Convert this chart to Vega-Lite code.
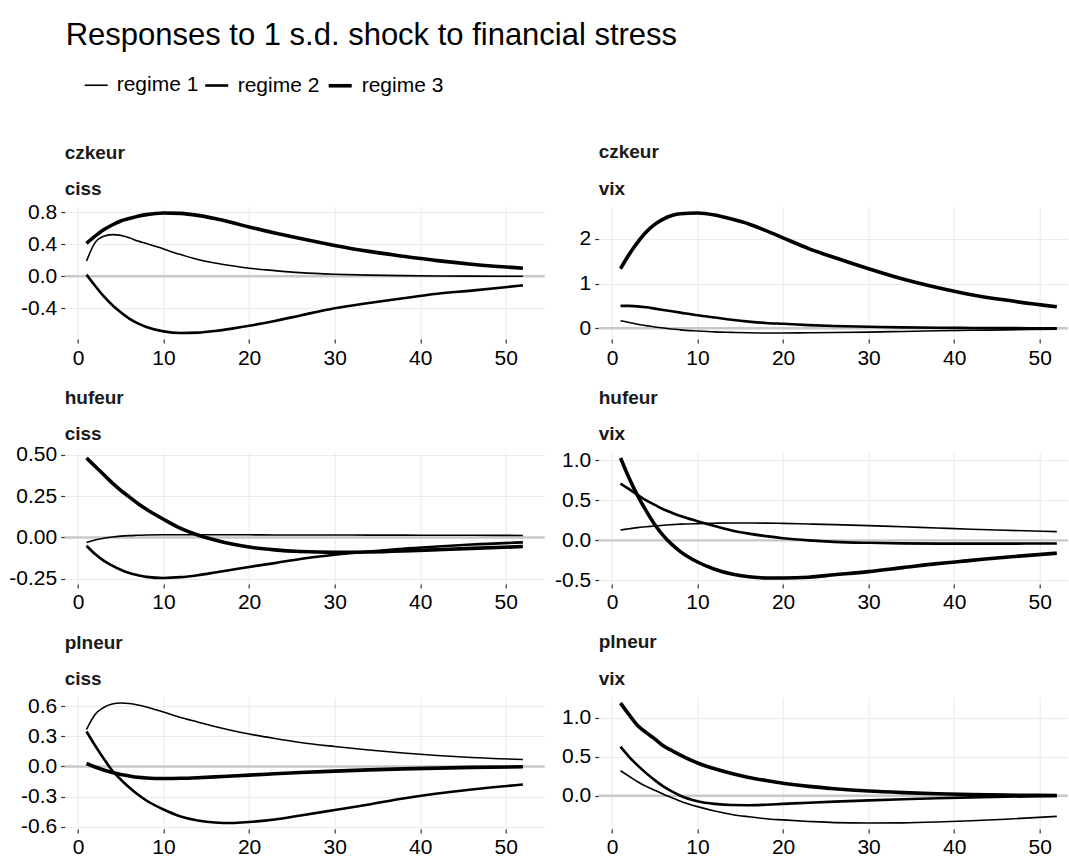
{
  "$schema": "https://vega.github.io/schema/vega-lite/v6.json",
  "background": "white",
  "padding": {"left": 8.7, "top": 20, "right": 0, "bottom": 0},
  "title": {"text": "Responses to 1 s.d. shock to financial stress", "anchor": "start", "frame": "group", "fontSize": 31, "fontWeight": "normal", "color": "#000000", "offset": 20, "lineHeight": 34, "dx": 1},
  "datasets": {
    "czkeur_ciss": [
      {"reg":"regime 1","h":1,"v":0.19},{"reg":"regime 1","h":2,"v":0.42},{"reg":"regime 1","h":3,"v":0.50},{"reg":"regime 1","h":4,"v":0.52},{"reg":"regime 1","h":5,"v":0.51},{"reg":"regime 1","h":6,"v":0.48},{"reg":"regime 1","h":7,"v":0.44},{"reg":"regime 1","h":8,"v":0.41},{"reg":"regime 1","h":10,"v":0.34},{"reg":"regime 1","h":12,"v":0.27},{"reg":"regime 1","h":14,"v":0.21},{"reg":"regime 1","h":16,"v":0.165},{"reg":"regime 1","h":18,"v":0.13},{"reg":"regime 1","h":20,"v":0.10},{"reg":"regime 1","h":23,"v":0.07},{"reg":"regime 1","h":26,"v":0.045},{"reg":"regime 1","h":30,"v":0.025},{"reg":"regime 1","h":34,"v":0.013},{"reg":"regime 1","h":38,"v":0.007},{"reg":"regime 1","h":42,"v":0.003},{"reg":"regime 1","h":46,"v":0.001},{"reg":"regime 1","h":52,"v":0.0},
      {"reg":"regime 2","h":1,"v":0.02},{"reg":"regime 2","h":2,"v":-0.12},{"reg":"regime 2","h":3,"v":-0.25},{"reg":"regime 2","h":4,"v":-0.36},{"reg":"regime 2","h":5,"v":-0.45},{"reg":"regime 2","h":6,"v":-0.53},{"reg":"regime 2","h":7,"v":-0.59},{"reg":"regime 2","h":8,"v":-0.635},{"reg":"regime 2","h":10,"v":-0.69},{"reg":"regime 2","h":12,"v":-0.71},{"reg":"regime 2","h":14,"v":-0.705},{"reg":"regime 2","h":16,"v":-0.685},{"reg":"regime 2","h":18,"v":-0.655},{"reg":"regime 2","h":20,"v":-0.62},{"reg":"regime 2","h":23,"v":-0.56},{"reg":"regime 2","h":26,"v":-0.49},{"reg":"regime 2","h":30,"v":-0.40},{"reg":"regime 2","h":34,"v":-0.335},{"reg":"regime 2","h":38,"v":-0.275},{"reg":"regime 2","h":42,"v":-0.22},{"reg":"regime 2","h":46,"v":-0.18},{"reg":"regime 2","h":52,"v":-0.115},
      {"reg":"regime 3","h":1,"v":0.41},{"reg":"regime 3","h":2,"v":0.50},{"reg":"regime 3","h":3,"v":0.58},{"reg":"regime 3","h":4,"v":0.64},{"reg":"regime 3","h":5,"v":0.69},{"reg":"regime 3","h":6,"v":0.72},{"reg":"regime 3","h":7,"v":0.75},{"reg":"regime 3","h":8,"v":0.77},{"reg":"regime 3","h":10,"v":0.79},{"reg":"regime 3","h":12,"v":0.785},{"reg":"regime 3","h":14,"v":0.76},{"reg":"regime 3","h":16,"v":0.72},{"reg":"regime 3","h":18,"v":0.67},{"reg":"regime 3","h":20,"v":0.615},{"reg":"regime 3","h":23,"v":0.54},{"reg":"regime 3","h":26,"v":0.47},{"reg":"regime 3","h":30,"v":0.385},{"reg":"regime 3","h":34,"v":0.31},{"reg":"regime 3","h":38,"v":0.25},{"reg":"regime 3","h":42,"v":0.195},{"reg":"regime 3","h":46,"v":0.15},{"reg":"regime 3","h":52,"v":0.10}
    ],
    "czkeur_vix": [
      {"reg":"regime 1","h":1,"v":0.17},{"reg":"regime 1","h":2,"v":0.13},{"reg":"regime 1","h":3,"v":0.09},{"reg":"regime 1","h":4,"v":0.06},{"reg":"regime 1","h":5,"v":0.03},{"reg":"regime 1","h":6,"v":0.005},{"reg":"regime 1","h":7,"v":-0.015},{"reg":"regime 1","h":8,"v":-0.035},{"reg":"regime 1","h":10,"v":-0.06},{"reg":"regime 1","h":12,"v":-0.08},{"reg":"regime 1","h":14,"v":-0.09},{"reg":"regime 1","h":16,"v":-0.1},{"reg":"regime 1","h":18,"v":-0.105},{"reg":"regime 1","h":20,"v":-0.105},{"reg":"regime 1","h":23,"v":-0.10},{"reg":"regime 1","h":26,"v":-0.095},{"reg":"regime 1","h":30,"v":-0.085},{"reg":"regime 1","h":34,"v":-0.07},{"reg":"regime 1","h":38,"v":-0.055},{"reg":"regime 1","h":42,"v":-0.045},{"reg":"regime 1","h":46,"v":-0.035},{"reg":"regime 1","h":52,"v":-0.02},
      {"reg":"regime 2","h":1,"v":0.50},{"reg":"regime 2","h":2,"v":0.50},{"reg":"regime 2","h":3,"v":0.49},{"reg":"regime 2","h":4,"v":0.47},{"reg":"regime 2","h":5,"v":0.44},{"reg":"regime 2","h":6,"v":0.41},{"reg":"regime 2","h":7,"v":0.38},{"reg":"regime 2","h":8,"v":0.35},{"reg":"regime 2","h":10,"v":0.29},{"reg":"regime 2","h":12,"v":0.24},{"reg":"regime 2","h":14,"v":0.19},{"reg":"regime 2","h":16,"v":0.15},{"reg":"regime 2","h":18,"v":0.12},{"reg":"regime 2","h":20,"v":0.10},{"reg":"regime 2","h":23,"v":0.07},{"reg":"regime 2","h":26,"v":0.05},{"reg":"regime 2","h":30,"v":0.035},{"reg":"regime 2","h":34,"v":0.02},{"reg":"regime 2","h":38,"v":0.012},{"reg":"regime 2","h":42,"v":0.008},{"reg":"regime 2","h":46,"v":0.005},{"reg":"regime 2","h":52,"v":0.0},
      {"reg":"regime 3","h":1,"v":1.33},{"reg":"regime 3","h":2,"v":1.65},{"reg":"regime 3","h":3,"v":1.92},{"reg":"regime 3","h":4,"v":2.15},{"reg":"regime 3","h":5,"v":2.32},{"reg":"regime 3","h":6,"v":2.44},{"reg":"regime 3","h":7,"v":2.52},{"reg":"regime 3","h":8,"v":2.56},{"reg":"regime 3","h":10,"v":2.575},{"reg":"regime 3","h":12,"v":2.53},{"reg":"regime 3","h":14,"v":2.44},{"reg":"regime 3","h":16,"v":2.33},{"reg":"regime 3","h":18,"v":2.18},{"reg":"regime 3","h":20,"v":2.02},{"reg":"regime 3","h":23,"v":1.78},{"reg":"regime 3","h":26,"v":1.58},{"reg":"regime 3","h":30,"v":1.33},{"reg":"regime 3","h":34,"v":1.10},{"reg":"regime 3","h":38,"v":0.91},{"reg":"regime 3","h":42,"v":0.75},{"reg":"regime 3","h":46,"v":0.63},{"reg":"regime 3","h":52,"v":0.48}
    ],
    "hufeur_ciss": [
      {"reg":"regime 1","h":1,"v":-0.03},{"reg":"regime 1","h":2,"v":-0.015},{"reg":"regime 1","h":3,"v":-0.005},{"reg":"regime 1","h":4,"v":0.003},{"reg":"regime 1","h":5,"v":0.008},{"reg":"regime 1","h":6,"v":0.011},{"reg":"regime 1","h":7,"v":0.013},{"reg":"regime 1","h":8,"v":0.015},{"reg":"regime 1","h":10,"v":0.016},{"reg":"regime 1","h":12,"v":0.016},{"reg":"regime 1","h":14,"v":0.016},{"reg":"regime 1","h":16,"v":0.016},{"reg":"regime 1","h":18,"v":0.016},{"reg":"regime 1","h":20,"v":0.016},{"reg":"regime 1","h":23,"v":0.015},{"reg":"regime 1","h":26,"v":0.015},{"reg":"regime 1","h":30,"v":0.015},{"reg":"regime 1","h":34,"v":0.014},{"reg":"regime 1","h":38,"v":0.014},{"reg":"regime 1","h":42,"v":0.013},{"reg":"regime 1","h":46,"v":0.013},{"reg":"regime 1","h":52,"v":0.012},
      {"reg":"regime 2","h":1,"v":-0.05},{"reg":"regime 2","h":2,"v":-0.10},{"reg":"regime 2","h":3,"v":-0.14},{"reg":"regime 2","h":4,"v":-0.17},{"reg":"regime 2","h":5,"v":-0.195},{"reg":"regime 2","h":6,"v":-0.215},{"reg":"regime 2","h":7,"v":-0.228},{"reg":"regime 2","h":8,"v":-0.238},{"reg":"regime 2","h":10,"v":-0.245},{"reg":"regime 2","h":12,"v":-0.24},{"reg":"regime 2","h":14,"v":-0.228},{"reg":"regime 2","h":16,"v":-0.212},{"reg":"regime 2","h":18,"v":-0.195},{"reg":"regime 2","h":20,"v":-0.178},{"reg":"regime 2","h":23,"v":-0.155},{"reg":"regime 2","h":26,"v":-0.13},{"reg":"regime 2","h":30,"v":-0.105},{"reg":"regime 2","h":34,"v":-0.085},{"reg":"regime 2","h":38,"v":-0.068},{"reg":"regime 2","h":42,"v":-0.055},{"reg":"regime 2","h":46,"v":-0.043},{"reg":"regime 2","h":52,"v":-0.03},
      {"reg":"regime 3","h":1,"v":0.48},{"reg":"regime 3","h":2,"v":0.43},{"reg":"regime 3","h":3,"v":0.38},{"reg":"regime 3","h":4,"v":0.33},{"reg":"regime 3","h":5,"v":0.285},{"reg":"regime 3","h":6,"v":0.245},{"reg":"regime 3","h":7,"v":0.205},{"reg":"regime 3","h":8,"v":0.17},{"reg":"regime 3","h":10,"v":0.11},{"reg":"regime 3","h":12,"v":0.055},{"reg":"regime 3","h":14,"v":0.015},{"reg":"regime 3","h":16,"v":-0.015},{"reg":"regime 3","h":18,"v":-0.04},{"reg":"regime 3","h":20,"v":-0.058},{"reg":"regime 3","h":23,"v":-0.075},{"reg":"regime 3","h":26,"v":-0.085},{"reg":"regime 3","h":30,"v":-0.09},{"reg":"regime 3","h":34,"v":-0.088},{"reg":"regime 3","h":38,"v":-0.082},{"reg":"regime 3","h":42,"v":-0.074},{"reg":"regime 3","h":46,"v":-0.066},{"reg":"regime 3","h":52,"v":-0.055}
    ],
    "hufeur_vix": [
      {"reg":"regime 1","h":1,"v":0.13},{"reg":"regime 1","h":2,"v":0.145},{"reg":"regime 1","h":3,"v":0.16},{"reg":"regime 1","h":4,"v":0.17},{"reg":"regime 1","h":5,"v":0.18},{"reg":"regime 1","h":6,"v":0.19},{"reg":"regime 1","h":7,"v":0.197},{"reg":"regime 1","h":8,"v":0.203},{"reg":"regime 1","h":10,"v":0.21},{"reg":"regime 1","h":12,"v":0.215},{"reg":"regime 1","h":14,"v":0.218},{"reg":"regime 1","h":16,"v":0.218},{"reg":"regime 1","h":18,"v":0.216},{"reg":"regime 1","h":20,"v":0.213},{"reg":"regime 1","h":23,"v":0.205},{"reg":"regime 1","h":26,"v":0.197},{"reg":"regime 1","h":30,"v":0.185},{"reg":"regime 1","h":34,"v":0.17},{"reg":"regime 1","h":38,"v":0.155},{"reg":"regime 1","h":42,"v":0.14},{"reg":"regime 1","h":46,"v":0.127},{"reg":"regime 1","h":52,"v":0.11},
      {"reg":"regime 2","h":1,"v":0.71},{"reg":"regime 2","h":2,"v":0.64},{"reg":"regime 2","h":3,"v":0.57},{"reg":"regime 2","h":4,"v":0.50},{"reg":"regime 2","h":5,"v":0.445},{"reg":"regime 2","h":6,"v":0.39},{"reg":"regime 2","h":7,"v":0.345},{"reg":"regime 2","h":8,"v":0.305},{"reg":"regime 2","h":10,"v":0.24},{"reg":"regime 2","h":12,"v":0.18},{"reg":"regime 2","h":14,"v":0.125},{"reg":"regime 2","h":16,"v":0.085},{"reg":"regime 2","h":18,"v":0.053},{"reg":"regime 2","h":20,"v":0.027},{"reg":"regime 2","h":23,"v":0.0},{"reg":"regime 2","h":26,"v":-0.018},{"reg":"regime 2","h":30,"v":-0.03},{"reg":"regime 2","h":34,"v":-0.037},{"reg":"regime 2","h":38,"v":-0.04},{"reg":"regime 2","h":42,"v":-0.04},{"reg":"regime 2","h":46,"v":-0.04},{"reg":"regime 2","h":52,"v":-0.038},
      {"reg":"regime 3","h":1,"v":1.03},{"reg":"regime 3","h":2,"v":0.78},{"reg":"regime 3","h":3,"v":0.56},{"reg":"regime 3","h":4,"v":0.37},{"reg":"regime 3","h":5,"v":0.2},{"reg":"regime 3","h":6,"v":0.06},{"reg":"regime 3","h":7,"v":-0.05},{"reg":"regime 3","h":8,"v":-0.14},{"reg":"regime 3","h":10,"v":-0.27},{"reg":"regime 3","h":12,"v":-0.36},{"reg":"regime 3","h":14,"v":-0.42},{"reg":"regime 3","h":16,"v":-0.455},{"reg":"regime 3","h":18,"v":-0.47},{"reg":"regime 3","h":20,"v":-0.47},{"reg":"regime 3","h":23,"v":-0.46},{"reg":"regime 3","h":26,"v":-0.43},{"reg":"regime 3","h":30,"v":-0.39},{"reg":"regime 3","h":34,"v":-0.34},{"reg":"regime 3","h":38,"v":-0.29},{"reg":"regime 3","h":42,"v":-0.25},{"reg":"regime 3","h":46,"v":-0.21},{"reg":"regime 3","h":52,"v":-0.16}
    ],
    "plneur_ciss": [
      {"reg":"regime 1","h":1,"v":0.37},{"reg":"regime 1","h":2,"v":0.52},{"reg":"regime 1","h":3,"v":0.59},{"reg":"regime 1","h":4,"v":0.625},{"reg":"regime 1","h":5,"v":0.635},{"reg":"regime 1","h":6,"v":0.63},{"reg":"regime 1","h":7,"v":0.615},{"reg":"regime 1","h":8,"v":0.595},{"reg":"regime 1","h":10,"v":0.545},{"reg":"regime 1","h":12,"v":0.49},{"reg":"regime 1","h":14,"v":0.445},{"reg":"regime 1","h":16,"v":0.40},{"reg":"regime 1","h":18,"v":0.36},{"reg":"regime 1","h":20,"v":0.325},{"reg":"regime 1","h":23,"v":0.28},{"reg":"regime 1","h":26,"v":0.24},{"reg":"regime 1","h":30,"v":0.20},{"reg":"regime 1","h":34,"v":0.165},{"reg":"regime 1","h":38,"v":0.135},{"reg":"regime 1","h":42,"v":0.11},{"reg":"regime 1","h":46,"v":0.09},{"reg":"regime 1","h":52,"v":0.07},
      {"reg":"regime 2","h":1,"v":0.35},{"reg":"regime 2","h":2,"v":0.21},{"reg":"regime 2","h":3,"v":0.08},{"reg":"regime 2","h":4,"v":-0.04},{"reg":"regime 2","h":5,"v":-0.13},{"reg":"regime 2","h":6,"v":-0.21},{"reg":"regime 2","h":7,"v":-0.28},{"reg":"regime 2","h":8,"v":-0.34},{"reg":"regime 2","h":10,"v":-0.43},{"reg":"regime 2","h":12,"v":-0.5},{"reg":"regime 2","h":14,"v":-0.54},{"reg":"regime 2","h":16,"v":-0.56},{"reg":"regime 2","h":18,"v":-0.565},{"reg":"regime 2","h":20,"v":-0.555},{"reg":"regime 2","h":23,"v":-0.53},{"reg":"regime 2","h":26,"v":-0.49},{"reg":"regime 2","h":30,"v":-0.435},{"reg":"regime 2","h":34,"v":-0.38},{"reg":"regime 2","h":38,"v":-0.32},{"reg":"regime 2","h":42,"v":-0.27},{"reg":"regime 2","h":46,"v":-0.23},{"reg":"regime 2","h":52,"v":-0.18},
      {"reg":"regime 3","h":1,"v":0.03},{"reg":"regime 3","h":2,"v":-0.005},{"reg":"regime 3","h":3,"v":-0.035},{"reg":"regime 3","h":4,"v":-0.06},{"reg":"regime 3","h":5,"v":-0.08},{"reg":"regime 3","h":6,"v":-0.095},{"reg":"regime 3","h":7,"v":-0.108},{"reg":"regime 3","h":8,"v":-0.115},{"reg":"regime 3","h":10,"v":-0.12},{"reg":"regime 3","h":12,"v":-0.118},{"reg":"regime 3","h":14,"v":-0.112},{"reg":"regime 3","h":16,"v":-0.104},{"reg":"regime 3","h":18,"v":-0.095},{"reg":"regime 3","h":20,"v":-0.086},{"reg":"regime 3","h":23,"v":-0.073},{"reg":"regime 3","h":26,"v":-0.06},{"reg":"regime 3","h":30,"v":-0.046},{"reg":"regime 3","h":34,"v":-0.034},{"reg":"regime 3","h":38,"v":-0.024},{"reg":"regime 3","h":42,"v":-0.016},{"reg":"regime 3","h":46,"v":-0.009},{"reg":"regime 3","h":52,"v":-0.003}
    ],
    "plneur_vix": [
      {"reg":"regime 1","h":1,"v":0.32},{"reg":"regime 1","h":2,"v":0.25},{"reg":"regime 1","h":3,"v":0.18},{"reg":"regime 1","h":4,"v":0.12},{"reg":"regime 1","h":5,"v":0.07},{"reg":"regime 1","h":6,"v":0.02},{"reg":"regime 1","h":7,"v":-0.025},{"reg":"regime 1","h":8,"v":-0.07},{"reg":"regime 1","h":10,"v":-0.14},{"reg":"regime 1","h":12,"v":-0.195},{"reg":"regime 1","h":14,"v":-0.24},{"reg":"regime 1","h":16,"v":-0.27},{"reg":"regime 1","h":18,"v":-0.295},{"reg":"regime 1","h":20,"v":-0.31},{"reg":"regime 1","h":23,"v":-0.33},{"reg":"regime 1","h":26,"v":-0.345},{"reg":"regime 1","h":30,"v":-0.35},{"reg":"regime 1","h":34,"v":-0.348},{"reg":"regime 1","h":38,"v":-0.338},{"reg":"regime 1","h":42,"v":-0.322},{"reg":"regime 1","h":46,"v":-0.302},{"reg":"regime 1","h":52,"v":-0.265},
      {"reg":"regime 2","h":1,"v":0.63},{"reg":"regime 2","h":2,"v":0.5},{"reg":"regime 2","h":3,"v":0.39},{"reg":"regime 2","h":4,"v":0.29},{"reg":"regime 2","h":5,"v":0.2},{"reg":"regime 2","h":6,"v":0.12},{"reg":"regime 2","h":7,"v":0.055},{"reg":"regime 2","h":8,"v":0.0},{"reg":"regime 2","h":10,"v":-0.07},{"reg":"regime 2","h":12,"v":-0.105},{"reg":"regime 2","h":14,"v":-0.12},{"reg":"regime 2","h":16,"v":-0.122},{"reg":"regime 2","h":18,"v":-0.115},{"reg":"regime 2","h":20,"v":-0.105},{"reg":"regime 2","h":23,"v":-0.09},{"reg":"regime 2","h":26,"v":-0.076},{"reg":"regime 2","h":30,"v":-0.06},{"reg":"regime 2","h":34,"v":-0.045},{"reg":"regime 2","h":38,"v":-0.032},{"reg":"regime 2","h":42,"v":-0.021},{"reg":"regime 2","h":46,"v":-0.013},{"reg":"regime 2","h":52,"v":-0.004},
      {"reg":"regime 3","h":1,"v":1.19},{"reg":"regime 3","h":2,"v":1.04},{"reg":"regime 3","h":3,"v":0.9},{"reg":"regime 3","h":4,"v":0.81},{"reg":"regime 3","h":5,"v":0.73},{"reg":"regime 3","h":6,"v":0.64},{"reg":"regime 3","h":7,"v":0.58},{"reg":"regime 3","h":8,"v":0.52},{"reg":"regime 3","h":10,"v":0.42},{"reg":"regime 3","h":12,"v":0.345},{"reg":"regime 3","h":14,"v":0.285},{"reg":"regime 3","h":16,"v":0.235},{"reg":"regime 3","h":18,"v":0.195},{"reg":"regime 3","h":20,"v":0.16},{"reg":"regime 3","h":23,"v":0.12},{"reg":"regime 3","h":26,"v":0.09},{"reg":"regime 3","h":30,"v":0.06},{"reg":"regime 3","h":34,"v":0.04},{"reg":"regime 3","h":38,"v":0.025},{"reg":"regime 3","h":42,"v":0.015},{"reg":"regime 3","h":46,"v":0.008},{"reg":"regime 3","h":52,"v":0.003}
    ]
  },
  "columns": 2,
  "spacing": {"row": 113, "column": 54},
  "bounds": "flush",
  "concat": [
    {
      "width": 480, "height": 132,
      "title": {"text": ["czkeur", "ciss"], "offset": 1.7},
      "layer": [
        {"data": {"values": [{}]}, "mark": {"type": "rule", "color": "#C8C8C8", "strokeWidth": 2.4},
         "encoding": {"y": {"datum": 0, "type": "quantitative", "title": null, "scale": {"domain": [-0.785, 0.865], "nice": false, "zero": false}}}},
        {"data": {"name": "czkeur_ciss"}, "mark": {"type": "line", "color": "black", "interpolate": "monotone"},
         "encoding": {
           "x": {"field": "h", "type": "quantitative", "title": null, "scale": {"domain": [-1.55, 54.55], "nice": false, "zero": false}, "axis": {"values": [0, 10, 20, 30, 40, 50], "format": "d"}},
           "y": {"field": "v", "type": "quantitative", "title": null, "scale": {"domain": [-0.785, 0.865], "nice": false, "zero": false}, "axis": {"values": [-0.4, 0, 0.4, 0.8], "labelExpr": "replace(format(datum.value, '.1f'), '\u2212', '-')"}},
           "strokeWidth": {"field": "reg", "type": "nominal", "scale": {"domain": ["regime 1", "regime 2", "regime 3"], "range": [1.6, 3.6, 6.2]},
             "legend": {"orient": "none", "legendX": 19, "legendY": -135, "direction": "horizontal", "title": null, "labelFontSize": 21, "labelColor": "#000000", "symbolType": "stroke", "symbolSize": 529, "symbolStrokeColor": "#000000", "labelOffset": 8, "columnPadding": 1}}
         }}
      ]
    },
    {
      "width": 469, "height": 132,
      "title": {"text": ["czkeur", "vix"], "offset": 7},
      "layer": [
        {"data": {"values": [{}]}, "mark": {"type": "rule", "color": "#C8C8C8", "strokeWidth": 2.4},
         "encoding": {"y": {"datum": 0, "type": "quantitative", "title": null, "scale": {"domain": [-0.239, 2.709], "nice": false, "zero": false}}}},
        {"data": {"name": "czkeur_vix"}, "mark": {"type": "line", "color": "black", "interpolate": "monotone"},
         "encoding": {
           "x": {"field": "h", "type": "quantitative", "title": null, "scale": {"domain": [-1.55, 53.27], "nice": false, "zero": false}, "axis": {"values": [0, 10, 20, 30, 40, 50], "format": "d"}},
           "y": {"field": "v", "type": "quantitative", "title": null, "scale": {"domain": [-0.239, 2.709], "nice": false, "zero": false}, "axis": {"values": [0, 1, 2], "format": "d"}},
           "strokeWidth": {"field": "reg", "type": "nominal", "scale": {"domain": ["regime 1", "regime 2", "regime 3"], "range": [1.6, 3.6, 6.2]},
             "legend": {"orient": "none", "legendX": 19, "legendY": -135, "direction": "horizontal", "title": null, "labelFontSize": 21, "labelColor": "#000000", "symbolType": "stroke", "symbolSize": 529, "symbolStrokeColor": "#000000", "labelOffset": 8, "columnPadding": 1}}
         }}
      ]
    },
    {
      "width": 480, "height": 132,
      "title": {"text": ["hufeur", "ciss"], "offset": -0.8},
      "layer": [
        {"data": {"values": [{}]}, "mark": {"type": "rule", "color": "#C8C8C8", "strokeWidth": 2.4},
         "encoding": {"y": {"datum": 0, "type": "quantitative", "title": null, "scale": {"domain": [-0.28125, 0.51625], "nice": false, "zero": false}}}},
        {"data": {"name": "hufeur_ciss"}, "mark": {"type": "line", "color": "black", "interpolate": "monotone"},
         "encoding": {
           "x": {"field": "h", "type": "quantitative", "title": null, "scale": {"domain": [-1.55, 54.55], "nice": false, "zero": false}, "axis": {"values": [0, 10, 20, 30, 40, 50], "format": "d"}},
           "y": {"field": "v", "type": "quantitative", "title": null, "scale": {"domain": [-0.28125, 0.51625], "nice": false, "zero": false}, "axis": {"values": [-0.25, 0, 0.25, 0.5], "labelExpr": "replace(format(datum.value, '.2f'), '\u2212', '-')"}},
           "strokeWidth": {"field": "reg", "type": "nominal", "scale": {"domain": ["regime 1", "regime 2", "regime 3"], "range": [1.6, 3.6, 6.2]},
             "legend": {"orient": "none", "legendX": 19, "legendY": -135, "direction": "horizontal", "title": null, "labelFontSize": 21, "labelColor": "#000000", "symbolType": "stroke", "symbolSize": 529, "symbolStrokeColor": "#000000", "labelOffset": 8, "columnPadding": 1}}
         }}
      ]
    },
    {
      "width": 469, "height": 132,
      "title": {"text": ["hufeur", "vix"], "offset": 4.9},
      "layer": [
        {"data": {"values": [{}]}, "mark": {"type": "rule", "color": "#C8C8C8", "strokeWidth": 2.4},
         "encoding": {"y": {"datum": 0, "type": "quantitative", "title": null, "scale": {"domain": [-0.545, 1.105], "nice": false, "zero": false}}}},
        {"data": {"name": "hufeur_vix"}, "mark": {"type": "line", "color": "black", "interpolate": "monotone"},
         "encoding": {
           "x": {"field": "h", "type": "quantitative", "title": null, "scale": {"domain": [-1.55, 53.27], "nice": false, "zero": false}, "axis": {"values": [0, 10, 20, 30, 40, 50], "format": "d"}},
           "y": {"field": "v", "type": "quantitative", "title": null, "scale": {"domain": [-0.545, 1.105], "nice": false, "zero": false}, "axis": {"values": [-0.5, 0, 0.5, 1.0], "labelExpr": "replace(format(datum.value, '.1f'), '\u2212', '-')"}},
           "strokeWidth": {"field": "reg", "type": "nominal", "scale": {"domain": ["regime 1", "regime 2", "regime 3"], "range": [1.6, 3.6, 6.2]},
             "legend": {"orient": "none", "legendX": 19, "legendY": -135, "direction": "horizontal", "title": null, "labelFontSize": 21, "labelColor": "#000000", "symbolType": "stroke", "symbolSize": 529, "symbolStrokeColor": "#000000", "labelOffset": 8, "columnPadding": 1}}
         }}
      ]
    },
    {
      "width": 480, "height": 132,
      "title": {"text": ["plneur", "ciss"], "offset": 6},
      "layer": [
        {"data": {"values": [{}]}, "mark": {"type": "rule", "color": "#C8C8C8", "strokeWidth": 2.4},
         "encoding": {"y": {"datum": 0, "type": "quantitative", "title": null, "scale": {"domain": [-0.625, 0.695], "nice": false, "zero": false}}}},
        {"data": {"name": "plneur_ciss"}, "mark": {"type": "line", "color": "black", "interpolate": "monotone"},
         "encoding": {
           "x": {"field": "h", "type": "quantitative", "title": null, "scale": {"domain": [-1.55, 54.55], "nice": false, "zero": false}, "axis": {"values": [0, 10, 20, 30, 40, 50], "format": "d"}},
           "y": {"field": "v", "type": "quantitative", "title": null, "scale": {"domain": [-0.625, 0.695], "nice": false, "zero": false}, "axis": {"values": [-0.6, -0.3, 0, 0.3, 0.6], "tickCount": 10, "labelExpr": "replace(format(datum.value, '.1f'), '\u2212', '-')"}},
           "strokeWidth": {"field": "reg", "type": "nominal", "scale": {"domain": ["regime 1", "regime 2", "regime 3"], "range": [1.6, 3.6, 6.2]},
             "legend": {"orient": "none", "legendX": 19, "legendY": -135, "direction": "horizontal", "title": null, "labelFontSize": 21, "labelColor": "#000000", "symbolType": "stroke", "symbolSize": 529, "symbolStrokeColor": "#000000", "labelOffset": 8, "columnPadding": 1}}
         }}
      ]
    },
    {
      "width": 469, "height": 132,
      "title": {"text": ["plneur", "vix"], "offset": 7},
      "layer": [
        {"data": {"values": [{}]}, "mark": {"type": "rule", "color": "#C8C8C8", "strokeWidth": 2.4},
         "encoding": {"y": {"datum": 0, "type": "quantitative", "title": null, "scale": {"domain": [-0.427, 1.267], "nice": false, "zero": false}}}},
        {"data": {"name": "plneur_vix"}, "mark": {"type": "line", "color": "black", "interpolate": "monotone"},
         "encoding": {
           "x": {"field": "h", "type": "quantitative", "title": null, "scale": {"domain": [-1.55, 53.27], "nice": false, "zero": false}, "axis": {"values": [0, 10, 20, 30, 40, 50], "format": "d"}},
           "y": {"field": "v", "type": "quantitative", "title": null, "scale": {"domain": [-0.427, 1.267], "nice": false, "zero": false}, "axis": {"values": [0, 0.5, 1.0], "labelExpr": "replace(format(datum.value, '.1f'), '\u2212', '-')"}},
           "strokeWidth": {"field": "reg", "type": "nominal", "scale": {"domain": ["regime 1", "regime 2", "regime 3"], "range": [1.6, 3.6, 6.2]},
             "legend": {"orient": "none", "legendX": 19, "legendY": -135, "direction": "horizontal", "title": null, "labelFontSize": 21, "labelColor": "#000000", "symbolType": "stroke", "symbolSize": 529, "symbolStrokeColor": "#000000", "labelOffset": 8, "columnPadding": 1}}
         }}
      ]
    }
  ],
  "config": {
    "font": "Liberation Sans",
    "view": {"stroke": null},
    "axis": {"domain": false, "grid": true, "gridColor": "#EBEBEB", "gridWidth": 1.1, "tickColor": "#333333", "tickWidth": 1.2, "tickSize": 4, "labelFontSize": 21, "labelColor": "#000000", "labelPadding": 4, "labelFont": "Liberation Sans", "labelOverlap": false, "tickCount": 10},
    "title": {"anchor": "start", "frame": "group", "fontSize": 19, "fontWeight": "bold", "color": "#1A1A1A", "lineHeight": 36.7, "offset": 7},
    "legend": {"labelFont": "Liberation Sans"}
  }
}
